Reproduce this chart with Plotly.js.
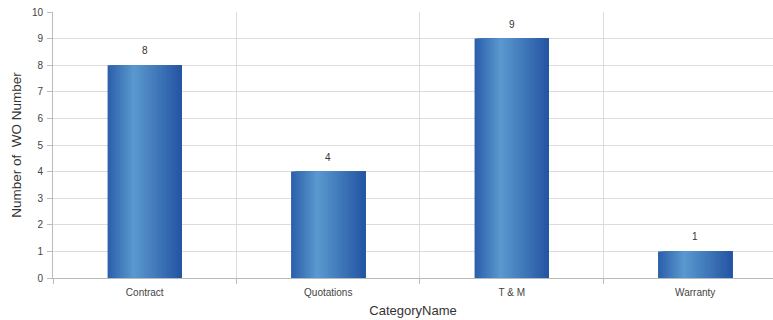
<!DOCTYPE html>
<html>
<head>
<meta charset="utf-8">
<script src="https://cdn.plot.ly/plotly-3.0.1.min.js"></script>
<style>html,body{margin:0;padding:0;background:#fff;overflow:hidden}#chart{width:773px;height:320px}</style>
</head>
<body>
<div id="chart"></div>
<script>
const categories = ["Contract", "Quotations", "T & M", "Warranty"];
const woCounts = [8, 4, 9, 1];
const yTickValues = [0, 1, 2, 3, 4, 5, 6, 7, 8, 9, 10];

// horizontal gradient across each bar, made from overlaid bars that each
// start a little further right and run to the bar's right edge
const gradStops = [[0, [43, 94, 170]], [0.35, [90, 153, 207]], [1, [36, 84, 163]]];
function gradColor(t) {
  for (let i = 0; i < gradStops.length - 1; i++) {
    const [t0, c0] = gradStops[i], [t1, c1] = gradStops[i + 1];
    if (t >= t0 && t <= t1) {
      const f = (t - t0) / (t1 - t0);
      const c = c0.map((v, k) => Math.round(v + (c1[k] - v) * f));
      return `rgb(${c[0]},${c[1]},${c[2]})`;
    }
  }
  return "rgb(36,84,163)";
}
const barWidth = 0.405;
const nSlices = 30;
const traces = [];
for (let i = 0; i < nSlices; i++) {
  const w = barWidth / nSlices;
  traces.push({
    type: "bar",
    x: categories,
    y: woCounts,
    width: barWidth - i * w,
    offset: -barWidth / 2 + i * w,
    marker: { color: gradColor((i + 0.5) / nSlices), line: { width: 0 } },
    hoverinfo: "skip",
    showlegend: false
  });
}

const annotations = categories.map((c, i) => ({
  x: c, y: woCounts[i], text: String(woCounts[i]),
  showarrow: false, yanchor: "bottom", yshift: 7,
  font: { family: "Liberation Sans, Arial, sans-serif", size: 10, color: "#333" }
}));

const layout = {
  width: 773, height: 320,
  margin: { l: 53, r: 0, t: 12, b: 42 },
  paper_bgcolor: "#fff", plot_bgcolor: "#fff",
  barmode: "overlay",
  showlegend: false,
  font: { family: "Liberation Sans, Arial, sans-serif", size: 10, color: "#444" },
  xaxis: {
    type: "category",
    range: [-0.5, 3.424],
    tickson: "boundaries",
    ticks: "outside", ticklen: 5, tickcolor: "#bbb",
    ticklabelstandoff: 5,
    showgrid: true, gridcolor: "#dcdcdc", gridwidth: 1,
    showline: true, linecolor: "#bbb", linewidth: 1,
    tickfont: { size: 10, color: "#444" },
    title: { text: "CategoryName", font: { size: 13, color: "#333" }, standoff: 8 },
    fixedrange: true
  },
  yaxis: {
    range: [0, 10],
    tickvals: yTickValues,
    ticks: "outside", ticklen: 5, tickcolor: "#bbb",
    ticklabelstandoff: 2,
    showgrid: true, gridcolor: "#dcdcdc", gridwidth: 1,
    showline: true, linecolor: "#bbb", linewidth: 1,
    zeroline: false,
    tickfont: { size: 10, color: "#444" },
    title: { text: "Number of  WO Number", font: { size: 13.5, color: "#333" }, standoff: 7 },
    fixedrange: true
  },
  annotations: annotations
};

Plotly.newPlot("chart", traces, layout, { displayModeBar: false, staticPlot: true });
</script>
</body>
</html>
